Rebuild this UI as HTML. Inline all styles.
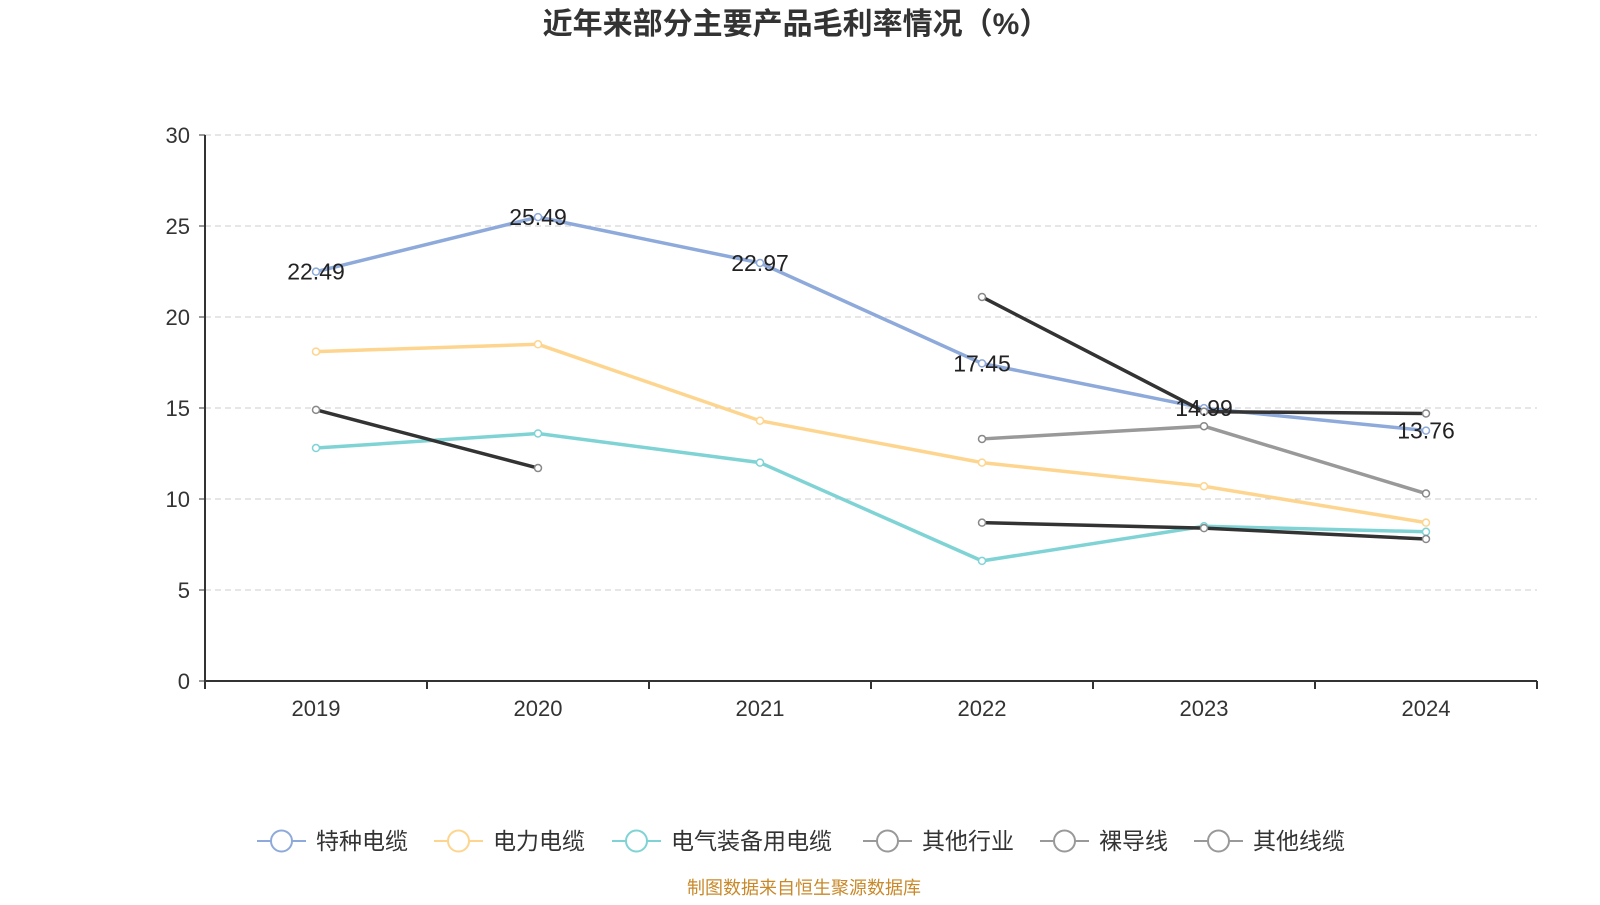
<!DOCTYPE html>
<html><head><meta charset="utf-8"><style>
body{margin:0;background:#fff;width:1600px;height:900px;overflow:hidden;font-family:"Liberation Sans","Noto Sans CJK SC",sans-serif}
</style></head><body>
<svg id="c" width="1600" height="900" xmlns="http://www.w3.org/2000/svg"></svg>
<script>
const categories=["2019","2020","2021","2022","2023","2024"];
const yTicks=[0,5,10,15,20,25,30];
const seriesNames=["特种电缆","电力电缆","电气装备用电缆","其他行业","裸导线","其他线缆"];
const seriesColors=["#8eaadb","#fdd58f","#7fd3d5","#333333","#999999","#333333"];
const s1=[22.49,25.49,22.97,17.45,14.99,13.76];
const s2=[18.1,18.5,14.3,12.0,10.7,8.7];
const s3=[12.8,13.6,12.0,6.6,8.5,8.2];
const s4=[14.9,11.7,null,21.1,14.8,14.7];
const s5=[null,null,null,13.3,14.0,10.3];
const s6=[null,null,null,8.7,8.4,7.8];
const allSeries=[s1,s2,s3,s4,s5,s6];
const NS="http://www.w3.org/2000/svg";
const svg=document.getElementById('c');
const L=205,R=1537,T=135,B=681;
const bw=(R-L)/categories.length;
const x=i=>L+bw*(i+0.5);
const y=v=>B-(v/30)*(B-T);
function el(t,a,p){const e=document.createElementNS(NS,t);for(const k in a)e.setAttribute(k,a[k]);(p||svg).appendChild(e);return e;}
let t=el('text',{x:796,y:34,'text-anchor':'middle','font-size':30,'font-weight':'bold',fill:'#333'});

t.textContent='近年来部分主要产品毛利率情况（%）';
yTicks.forEach(v=>{
 if(v>0){const g=el('line',{x1:L,x2:R,y1:y(v),y2:y(v),stroke:'#ccc','stroke-dasharray':'6,4'});
 }
 const tk=el('line',{x1:L-6,x2:L,y1:y(v),y2:y(v),stroke:'#333'});
 
 const lb=el('text',{x:L-15,y:y(v)+8,'text-anchor':'end','font-size':22,fill:'#333'});
 lb.textContent=v;
});
let ax=el('line',{x1:L,x2:L,y1:T,y2:B,stroke:'#333','stroke-width':2});
ax=el('line',{x1:L,x2:R,y1:B,y2:B,stroke:'#333','stroke-width':2});
for(let i=0;i<=categories.length;i++){const tk=el('line',{x1:L+bw*i,x2:L+bw*i,y1:B,y2:B+8,stroke:'#333','stroke-width':2});}
categories.forEach((c,i)=>{const lb=el('text',{x:x(i),y:716,'text-anchor':'middle','font-size':22,fill:'#333'});lb.textContent=c;});
const order=[1,2,4,0,3,5];
order.forEach(si=>{
 const d=allSeries[si],col=seriesColors[si];
 let segs=[],cur=[];
 d.forEach((v,i)=>{if(v==null){if(cur.length)segs.push(cur);cur=[];}else cur.push([x(i),y(v)]);});
 if(cur.length)segs.push(cur);
 segs.forEach(sg=>{const p=el('polyline',{points:sg.map(q=>q.join(',')).join(' '),fill:'none',stroke:col,'stroke-width':3.5});
  });
 d.forEach((v,i)=>{if(v==null)return;const ci=el('circle',{cx:x(i),cy:y(v),r:3.5,fill:'#fff',stroke:si>=3?'#888':col,'stroke-width':1.5});
  });
});
s1.forEach((v,i)=>{const lb=el('text',{x:x(i),y:y(v)+8,'text-anchor':'middle','font-size':23,fill:'#222'});
 lb.textContent=v.toFixed(2);});
const lx=[257,434,612,863,1040,1194];
seriesNames.forEach((n,i)=>{
 const g=el('g',{});
 const c=i>=3?'#999':seriesColors[i];
 el('line',{x1:lx[i],x2:lx[i]+49,y1:841,y2:841,stroke:c,'stroke-width':2},g);
 el('circle',{cx:lx[i]+24.5,cy:841,r:10.5,fill:'#fff',stroke:c,'stroke-width':2},g);
 const tx=el('text',{x:lx[i]+59,y:849,'font-size':23,fill:'#333'},g);tx.textContent=n;
});
const src=el('text',{x:804,y:900-6,'text-anchor':'middle','font-size':18,fill:'#c8892a'});
src.textContent='制图数据来自恒生聚源数据库';
</script></body></html>
